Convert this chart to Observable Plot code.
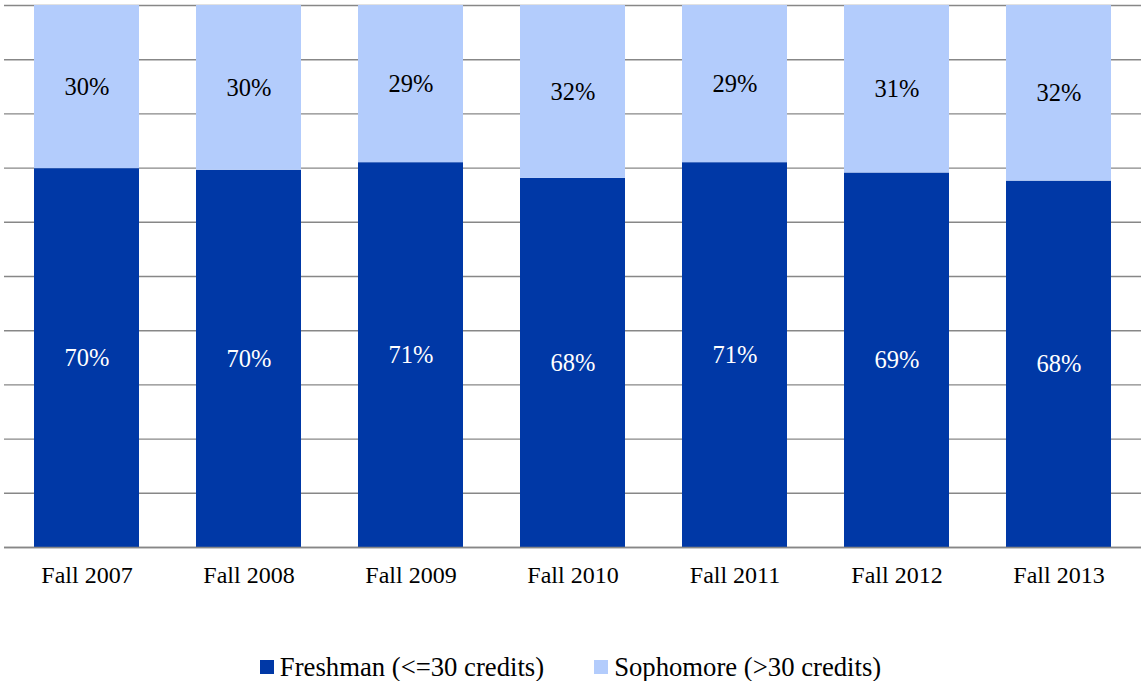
<!DOCTYPE html>
<html>
<head>
<meta charset="utf-8">
<script src="https://cdn.jsdelivr.net/npm/d3@7"></script>
<script src="https://cdn.jsdelivr.net/npm/@observablehq/plot@0.6"></script>
<style>
  html, body { margin: 0; padding: 0; background: #fff; }
  #chart svg { display: block; }
  .legend { display: flex; justify-content: center; align-items: center; margin-top: 53px; height: 28px;
    font-family: "Liberation Serif", "Times New Roman", serif; font-size: 26.7px; color: #000; }
  .legend .item { display: flex; align-items: center; }
  .legend .sw { width: 14px; height: 14px; margin-right: 6px; }
  .legend .item + .item { margin-left: 50px; }
</style>
</head>
<body>
<div id="chart"></div>
<script>
const categories = ["Fall 2007", "Fall 2008", "Fall 2009", "Fall 2010", "Fall 2011", "Fall 2012", "Fall 2013"];
const seriesNames = ["Freshman (<=30 credits)", "Sophomore (>30 credits)"];
const freshman = [69.9, 69.6, 71.0, 68.1, 71.0, 69.1, 67.6];
const sophomore = [30.1, 30.4, 29.0, 31.9, 29.0, 30.9, 32.4];
const colors = ["#0038A6", "#B3CCFC"];
const gridTicks = [0, 10, 20, 30, 40, 50, 60, 70, 80, 90, 100];

const data = [];
categories.forEach((c, i) => {
  data.push({year: c, series: seriesNames[0], value: freshman[i]});
  data.push({year: c, series: seriesNames[1], value: sophomore[i]});
});

const font = '"Liberation Serif", "Times New Roman", serif';

const chart = Plot.plot({
  width: 1141,
  height: 600,
  marginTop: 5,
  marginBottom: 53,
  marginLeft: 4,
  marginRight: 0,
  style: {fontFamily: font, fontSize: "24px", background: "#fff", color: "#000"},
  x: {domain: categories, paddingInner: 0.353, paddingOuter: 0.177, label: null},
  y: {domain: [0, 100], axis: null},
  color: {domain: seriesNames, range: colors},
  marks: [
    Plot.ruleY(gridTicks, {stroke: "#878787", strokeWidth: 1.4}),
    Plot.barY(data, {x: "year", y: "value", fill: "series", z: "series"}),
    Plot.ruleY([0], {stroke: "#878787", strokeWidth: 1.4}),
    Plot.axisX({tickSize: 0, tickPadding: 18, fontSize: 24, fontFamily: font, fill: "#000"}),
    Plot.text(data, Plot.stackY({x: "year", y: "value", z: "series",
      text: d => d.series === seriesNames[0] ? Math.round(d.value) + "%" : "",
      fill: "#ffffff", fontSize: 24.5, fontFamily: font})),
    Plot.text(data, Plot.stackY({x: "year", y: "value", z: "series",
      text: d => d.series === seriesNames[1] ? Math.round(d.value) + "%" : "",
      fill: "#000000", fontSize: 24.5, fontFamily: font}))
  ]
});
document.getElementById("chart").appendChild(chart);

const legend = document.createElement("div");
legend.className = "legend";
seriesNames.forEach((s, i) => {
  const item = document.createElement("div");
  item.className = "item";
  const sw = document.createElement("span");
  sw.className = "sw";
  sw.style.background = colors[i];
  const label = document.createElement("span");
  label.textContent = s;
  item.appendChild(sw);
  item.appendChild(label);
  legend.appendChild(item);
});
document.getElementById("chart").appendChild(legend);
</script>
</body>
</html>
